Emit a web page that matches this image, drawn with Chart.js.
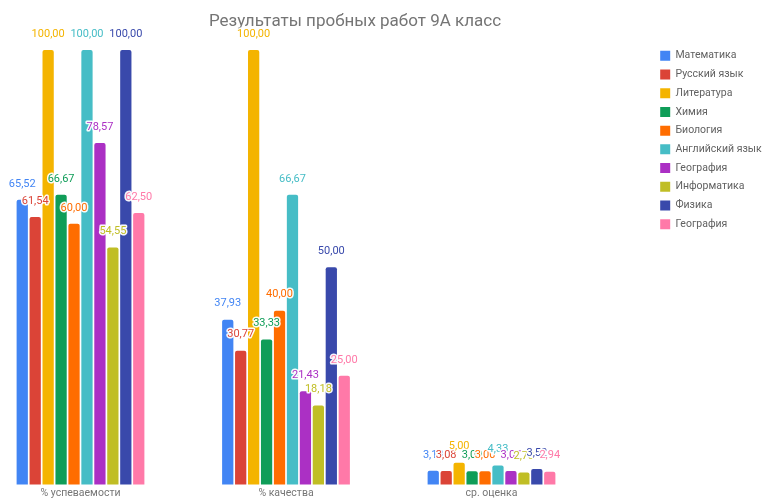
<!DOCTYPE html>
<html>
<head>
<meta charset="utf-8">
<script src="https://cdn.jsdelivr.net/npm/chart.js@4/dist/chart.umd.min.js"></script>
<style>
  html, body { margin: 0; padding: 0; background: #ffffff; }
  #wrap { width: 764px; height: 500px; }
</style>
</head>
<body>
<div id="wrap"><canvas id="c" width="764" height="500"></canvas></div>
<script>
// ---- data ----
const chartTitle = 'Результаты пробных работ 9А класс';
const categories = ['% успеваемости', '% качества', 'ср. оценка'];
const subjects = ['Математика', 'Русский язык', 'Литература', 'Химия', 'Биология',
                  'Английский язык', 'География', 'Информатика', 'Физика', 'География'];
const uspevaemost = [65.52, 61.54, 100.00, 66.67, 60.00, 100.00, 78.57, 54.55, 100.00, 62.50];
const kachestvo   = [37.93, 30.77, 100.00, 33.33, 40.00, 66.67, 21.43, 18.18, 50.00, 25.00];
const srOcenka    = [3.13, 3.08, 5.00, 3.00, 3.00, 4.33, 3.07, 2.73, 3.52, 2.94];
const colors = ['#4285F4', '#DB4437', '#F4B400', '#0F9D58', '#FF6D00',
                '#46BDC6', '#AB30C4', '#C0BE25', '#3949AB', '#FF79A8'];

const groups = [uspevaemost, kachestvo, srOcenka];

const datasets = subjects.map((name, j) => ({
  label: name,
  data: groups.map((arr, i) => ({ x: i, y: arr[j] })),
  backgroundColor: colors[j],
  borderColor: colors[j],
  borderWidth: 0,
  borderRadius: { topLeft: 2, topRight: 2 },
  borderSkipped: 'bottom',
  categoryPercentage: 0.63,
  barPercentage: 0.87,
  clip: false
}));

const valueLabels = {
  id: 'valueLabels',
  afterDatasetsDraw(chart) {
    const ctx = chart.ctx;
    ctx.save();
    ctx.font = '11px Roboto';
    ctx.textAlign = 'center';
    ctx.textBaseline = 'middle';
    ctx.lineJoin = 'round';
    chart.data.datasets.forEach((ds, di) => {
      const meta = chart.getDatasetMeta(di);
      meta.data.forEach((bar, i) => {
        const txt = ds.data[i].y.toFixed(2).replace('.', ',');
        const x = bar.x, y = bar.y - 16;
        ctx.lineWidth = 3;
        ctx.strokeStyle = 'rgba(255,255,255,0.95)';
        ctx.strokeText(txt, x, y);
        ctx.fillStyle = ds.backgroundColor;
        ctx.fillText(txt, x, y);
      });
    });
    ctx.restore();
  }
};

new Chart(document.getElementById('c'), {
  type: 'bar',
  data: { datasets },
  plugins: [valueLabels],
  options: {
    responsive: false,
    animation: false,
    layout: { padding: { left: 58, right: 0, top: 0, bottom: -3 } },
    plugins: {
      title: {
        display: true,
        text: chartTitle,
        fullSize: false,
        color: '#757575',
        font: { family: 'Roboto', size: 17, weight: 'normal' },
        padding: { top: 12, bottom: 10 }
      },
      legend: {
        position: 'right',
        align: 'start',
        fullSize: false,
        maxWidth: 112,
        labels: {
          boxWidth: 10,
          boxHeight: 10,
          padding: 8.2,
          color: '#616161',
          font: { family: 'Roboto', size: 10.5 }
        }
      },
      tooltip: { enabled: false }
    },
    scales: {
      x: {
        type: 'linear',
        offset: false,
        min: -0.1095,
        max: 2.781,
        grid: { display: false, drawTicks: false },
        border: { display: false },
        afterBuildTicks: (scale) => { scale.ticks = categories.map((_, i) => ({ value: i })); },
        ticks: {
          autoSkip: false,
          maxRotation: 0,
          padding: 3,
          color: '#757575',
          font: { family: 'Roboto', size: 10.5 },
          callback: (v) => categories[v]
        }
      },
      y: {
        display: false,
        min: 0,
        max: 101.75
      }
    }
  }
});
</script>
</body>
</html>
